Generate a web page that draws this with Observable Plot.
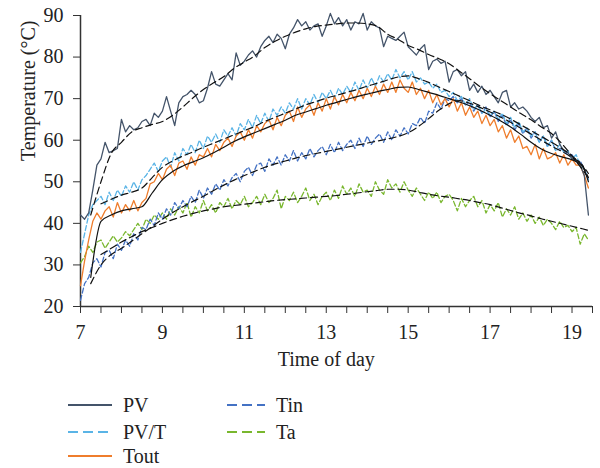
<!DOCTYPE html>
<html>
<head>
<meta charset="utf-8">
<script src="https://cdn.jsdelivr.net/npm/d3@7"></script>
<script src="https://cdn.jsdelivr.net/npm/@observablehq/plot@0.6"></script>
<style>
  body { margin: 0; background: white; overflow: hidden; }
  #chart { width: 600px; }
  #legend { position: relative; width: 600px; height: 83px; font-family: "Liberation Serif", "DejaVu Serif", serif; font-size: 20px; line-height: 22px; color: #222; }
  .item { position: absolute; display: flex; align-items: center; height: 22px; }
  .item svg { margin-right: 11px; }
</style>
</head>
<body>
<div id="chart"></div>
<div id="legend"></div>
<script>
// Measured time grid (hours), 0.1 h steps from 7.0 to 19.4
const timeNoisy = d3.range(125).map(i => +(7 + i * 0.1).toFixed(1));
// Smoothed-curve time grid (hours)
const timeSmooth = [7.0, 7.25, 7.5, 7.75, 8.0, 8.25, 8.5, 8.75, 9.0, 9.25, 9.5, 9.75, 10.0, 10.25, 10.5, 10.75,
  11.0, 11.25, 11.5, 11.75, 12.0, 12.25, 12.5, 12.75, 13.0, 13.25, 13.5, 13.75, 14.0, 14.25, 14.5, 14.75,
  15.0, 15.25, 15.5, 15.75, 16.0, 16.25, 16.5, 16.75, 17.0, 17.25, 17.5, 17.75, 18.0, 18.25, 18.5, 18.75,
  19.0, 19.25, 19.4];

const seriesNames = ["PV", "PV/T", "Tout", "Tin", "Ta"];

const pvMeasured = [
  42, 41, 42.5, 48, 54, 55.5, 59.5, 57, 57.5, 58,
  65, 62, 63.5, 62.5, 63, 64.5, 65, 63.5, 66.5, 65.5,
  67, 70.5, 67, 63.5, 69, 70.5, 71, 72, 71, 69,
  69.5, 72.5, 76.5, 73.5, 73, 74.5, 76, 74.5, 81, 78,
  79, 80.5, 81.5, 80, 82.5, 84, 85, 83.5, 85.5, 84.5,
  82, 85.5, 87, 89, 87.5, 88.5, 86.5, 87.5, 88, 85,
  87.5, 90.5, 88, 89.5, 87.5, 89, 86.5, 88.5, 88, 90.5,
  86.5, 88.5, 87.5, 87, 82.5, 85, 84.5, 84, 85, 86,
  82.5, 81.5, 80.5, 82, 83, 77, 79, 79.5, 78.5, 79,
  74, 76.5, 77, 75.5, 76.5, 72, 73.5, 71.5, 73, 71,
  72, 70.5, 69, 71.5, 72, 68, 69, 67.5, 68, 67,
  65.5, 64.5, 65.5, 63, 63.5, 60.5, 62, 59, 57.5, 57,
  55.5, 55, 54, 51.5, 42
];
const pvtMeasured = [
  33, 37.5, 42, 44.5, 45.5, 46.5, 44.5, 47.5, 45.5, 48,
  46.5, 49, 47.5, 50, 48, 50.5, 51.5, 53, 54.5, 52.5,
  55, 56, 53.5, 57, 55, 58, 56.5, 59, 57, 60,
  58, 61, 59.5, 61.5, 59.5, 62.5, 61, 63, 61, 64,
  62.5, 65, 63, 66, 64, 66.5, 64.5, 67.5, 66, 68,
  66.5, 69, 67.5, 70, 67.5, 70, 68.5, 71, 69, 71.5,
  70, 72, 70, 72.5, 71, 73, 71.5, 74, 72, 74.5,
  72.5, 75, 73, 75.5, 74, 76, 74.5, 77, 75, 76.5,
  74.5, 76.5, 74, 75, 73.5, 74, 72.5, 73.5, 71.5, 72,
  70.5, 71.5, 69.5, 70.5, 68.5, 70, 67.5, 68.5, 66.5, 67.5,
  66, 67, 65, 66.5, 64, 65.5, 63, 64.5, 62, 63,
  61, 62, 59.5, 61, 58.5, 60, 57.5, 59, 57, 57.5,
  55.5, 56.5, 54, 53, 50.5
];
const toutMeasured = [
  25, 31, 36, 40.5, 42.5, 41, 43, 44, 41.5, 45,
  42.5, 44.5, 43, 45.5, 43, 45, 46, 49.5, 50, 52,
  50.5, 53, 54, 51.5, 54.5, 55, 53, 56, 54, 56.5,
  56, 58, 56, 59, 57.5, 59.5, 60.5, 58.5, 61, 62,
  60, 62.5, 60.5, 63.5, 62, 64, 65, 62.5, 65.5, 63.5,
  66, 67, 64.5, 68, 65.5, 67.5, 68.5, 66, 69, 67,
  70, 67.5, 70.5, 68.5, 71, 69, 71.5, 69.5, 72, 70,
  72.5, 70.5, 73, 71, 73.5, 71.5, 74, 71.5, 74.5, 72.5,
  71.5, 74, 71, 72.5, 70, 72, 69, 71, 68.5, 70,
  68, 70, 67, 69, 66, 68, 65.5, 67, 64, 66,
  63.5, 65, 62, 63.5, 60.5, 62.5, 59.5, 61, 58, 58.5,
  56.5, 59, 55.5, 58, 55.5, 56, 57, 54.5, 56.5, 54,
  55.5, 54, 54, 51.5, 48.5
];
const tinMeasured = [
  21.5, 25.5, 27, 30.5, 31.5, 29.5, 33, 33.5, 31.5, 35,
  33.5, 36, 34.5, 37.5, 36, 39, 38.5, 41, 39.5, 42.5,
  41, 43.5, 42, 45, 43.5, 45.5, 44, 46.5, 45, 48,
  46, 48.5, 47, 49.5, 48, 50.5, 49, 51, 52, 50,
  52.5, 53.5, 51.5, 54, 54.5, 52.5, 55.5, 54, 56, 54,
  56.5, 55, 57.5, 55, 57, 55.5, 58, 56, 57.5, 58.5,
  56.5, 59, 57, 59.5, 57.5, 59, 60, 58, 60.5, 58.5,
  61, 59, 60.5, 61.5, 59.5, 62, 60, 62.5, 61, 63,
  61.5, 64, 63.5, 65.5, 64, 67, 66.5, 69, 67.5, 70,
  69.5, 70.5, 69, 70, 68.5, 69, 67, 68.5, 66.5, 68,
  65.5, 67, 64.5, 66, 63.5, 65, 62.5, 64, 61.5, 63,
  60.5, 62, 59.5, 61, 58.5, 60, 57.5, 58, 57.5, 56.5,
  56.5, 55, 55, 53, 50.5
];
const taMeasured = [
  30.5, 32, 34.5, 33, 35.5, 36, 34, 35.5, 37, 35.5,
  36.5, 38, 37, 38.5, 40, 38.5, 41, 40, 42, 41,
  42.5, 41, 43.5, 42, 44, 42.5, 45, 41.5, 44, 42.5,
  45.5, 43, 44.5, 42.5, 45, 44, 46, 43.5, 45.5, 44.5,
  46.5, 44, 45, 46.5, 44.5, 47, 45, 46, 48, 43.5,
  46.5, 45.5, 47.5, 45, 46.5, 48.5, 45.5, 47, 44.5, 46.5,
  47.5, 45.5, 48, 46, 49, 47, 48.5, 46.5, 49.5, 47.5,
  48, 46.5, 50, 48, 47, 50.5, 48.5, 49.5, 47.5, 50,
  48, 46.5, 48.5, 47, 45.5, 47.5, 46, 47.5, 45, 46.5,
  47, 45.5, 43, 46, 44, 45.5, 46.5, 44, 45.5, 42.5,
  44.5, 43, 45, 41.5, 43.5, 42, 44, 41, 42.5, 40.5,
  42, 40, 41.5, 39.5, 41, 40, 38.5, 40.5, 39, 39.5,
  38, 39, 35, 37.5, 36
];

// Fitted (black) curves on the smooth grid; null where not drawn
const pvFit = [null, 42, 50, 56.8, 59.5, 62, 63, 63.8, 64.5, 66, 68, 70.2, 72.2, 73.8, 75.3, 77.3,
  78.8, 80.3, 82.3, 83.8, 85, 86, 86.8, 87.4, 87.7, 88, 88.2, 88.2, 88, 87.4, 85.5, 84.3,
  82.8, 81.8, 80.6, 79.6, 78.4, 76.6, 74.8, 72.9, 71.2, 69.6, 68, 66.4, 64.9, 63.2, 61.6, 59.2,
  56.2, 53, 51];
const pvtFit = [null, null, 44.7, 45.8, 46.8, 47.5, 48.5, 51, 53.5, 55, 56.2, 57.2, 58.3, 59.3, 60.3, 61.3,
  62.3, 63.3, 64.5, 65.5, 66.5, 67.5, 68.5, 69.3, 70.1, 70.8, 71.5, 72.2, 73, 73.7, 74.5, 75.2,
  75.5, 74.8, 73.9, 72.8, 71.7, 70.6, 69.5, 68.3, 67.3, 66.3, 65.1, 63.7, 62.3, 60.9, 59.5, 58,
  56.2, 54, 52];
const toutFit = [null, 27, 40.5, 42, 43, 43.5, 44, 47.3, 50.5, 52.5, 53.8, 54.8, 55.8, 57, 58.3, 59.7,
  60.8, 61.8, 62.8, 63.8, 64.8, 66, 66.8, 67.6, 68.4, 69.1, 69.8, 70.5, 71.1, 71.7, 72.2, 72.7,
  72.8, 72.2, 71.5, 70.8, 70, 69.2, 68.3, 67.2, 66, 64.7, 63.2, 61.4, 59.5, 57.9, 56.8, 56,
  55.3, 53.8, 50];
const tinFit = [null, 25.5, 30, 32.5, 34, 35.7, 37.5, 39.2, 41, 42.6, 44, 45.3, 46.5, 47.9, 49.2, 50.4,
  51.5, 52.5, 53.5, 54.3, 55, 55.7, 56.3, 56.8, 57.3, 57.8, 58.3, 58.8, 59.3, 59.8, 60.3, 60.9,
  61.8, 63.3, 65.2, 67.2, 68.8, 69.5, 68.9, 67.9, 66.8, 65.6, 64.3, 62.9, 61.5, 60, 58.6, 57.3,
  55.8, 54, 51];
const taFit = [null, null, 32.5, 34, 35.5, 36.8, 38, 39, 40, 40.9, 41.7, 42.4, 43, 43.5, 44, 44.3,
  44.6, 44.9, 45.2, 45.5, 45.7, 45.9, 46.1, 46.3, 46.5, 46.7, 47, 47.3, 47.6, 47.9, 48.2, 48.2,
  48, 47.5, 47, 46.6, 46.3, 45.9, 45.5, 45, 44.5, 43.8, 43.1, 42.4, 41.8, 41.1, 40.5, 39.9,
  39.3, 38.7, 38.3];

const yTicks = [20, 30, 40, 50, 60, 70, 80, 90];
const xTicks = d3.range(7, 19.51, 0.5);
const xTickLabels = [7, 9, 11, 13, 15, 17, 19];

// styles
const colors = {"PV": "#44546a", "PV/T": "#5ab4e6", "Tout": "#ef7d2c", "Tin": "#4472c4", "Ta": "#79b72e"};
const dashed = {"PV": false, "PV/T": true, "Tout": false, "Tin": true, "Ta": true};

const measured = {"PV": pvMeasured, "PV/T": pvtMeasured, "Tout": toutMeasured, "Tin": tinMeasured, "Ta": taMeasured};
const fitted = {"PV": pvFit, "PV/T": pvtFit, "Tout": toutFit, "Tin": tinFit, "Ta": taFit};
const fitDashed = {"PV": true, "PV/T": true, "Tout": false, "Tin": true, "Ta": true};

const drawOrder = ["Ta", "Tin", "PV/T", "Tout", "PV"];

const marks = [];
for (const s of drawOrder) {
  const rows = timeNoisy.map((t, i) => ({t, v: measured[s][i]}));
  marks.push(Plot.line(rows, {x: "t", y: "v", stroke: colors[s], strokeWidth: 1.3,
    strokeDasharray: dashed[s] ? "5,2.5" : null}));
}
for (const s of drawOrder) {
  const rows = timeSmooth.map((t, i) => ({t, v: fitted[s][i]}));
  marks.push(Plot.line(rows, {x: "t", y: "v", stroke: "#111", strokeWidth: 1.2, curve: "monotone-x",
    strokeDasharray: fitDashed[s] ? "7,4" : null, defined: d => d.v != null}));
}

const FONT = "'Liberation Serif', 'DejaVu Serif', serif";

const chart = Plot.plot({
  width: 600,
  height: 385,
  marginLeft: 80,
  marginRight: 8,
  marginTop: 15,
  marginBottom: 79,
  style: {fontFamily: FONT, fontSize: "20px", color: "#222", background: "white"},
  x: {domain: [7, 19.5]},
  y: {domain: [20, 90]},
  marks: [
    Plot.axisY({ticks: yTicks, tickSize: 7, tickPadding: 10, label: null, stroke: "#333", fontSize: 20, fontFamily: FONT}),
    Plot.axisX({ticks: xTicks, tickSize: 7, tickPadding: 11, label: null, stroke: "#333", fontSize: 20, fontFamily: FONT,
      tickFormat: d => xTickLabels.includes(d) ? String(d) : ""}),
    Plot.ruleX([7], {stroke: "#333", strokeWidth: 1.5}),
    Plot.ruleY([20], {stroke: "#333", strokeWidth: 1.5}),
    ...marks,
    Plot.text(["Temperature (°C)"], {frameAnchor: "left", dx: -52, rotate: -90, fontSize: 20, fontFamily: FONT, fill: "#222"}),
    Plot.text(["Time of day"], {x: (xTickLabels[0] + xTickLabels[xTickLabels.length - 1]) / 2,
      frameAnchor: "bottom", dy: 59, fontSize: 20, fontFamily: FONT, fill: "#222"})
  ]
});
document.getElementById("chart").appendChild(chart);

// Legend
const legendPos = {
  "PV": [68, 20, 44], "PV/T": [68, 47, 44], "Tout": [68, 71, 44],
  "Tin": [227, 20, 38], "Ta": [227, 47, 38]
};
const legend = document.getElementById("legend");
for (const s of seriesNames) {
  const [left, cy, w] = legendPos[s];
  const div = document.createElement("div");
  div.className = "item";
  div.style.left = left + "px";
  div.style.top = (cy - 11) + "px";
  const dash = dashed[s] ? ' stroke-dasharray="10,5"' : '';
  div.innerHTML = `<svg width="${w}" height="4"><line x1="0" y1="2" x2="${w}" y2="2" stroke="${colors[s]}" stroke-width="2"${dash}/></svg><span>${s}</span>`;
  legend.appendChild(div);
}
</script>
</body>
</html>
